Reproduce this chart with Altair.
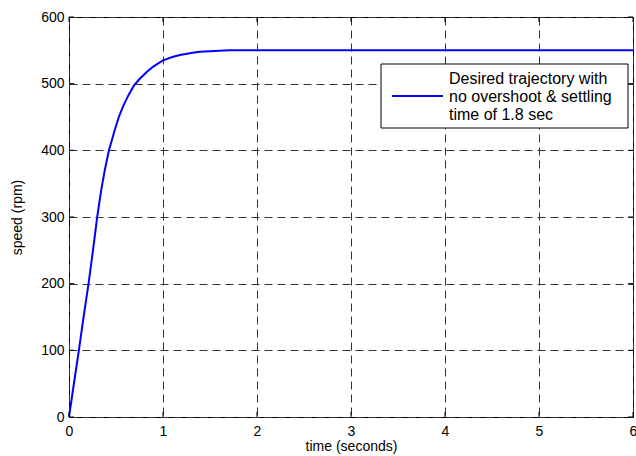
import altair as alt
import pandas as pd

# ---- data ----
time_s = [0, 0.05, 0.105, 0.155, 0.208, 0.255, 0.30, 0.34, 0.38, 0.425, 0.486,
          0.53, 0.575, 0.63, 0.69, 0.75, 0.83, 0.9, 1.0, 1.1, 1.18, 1.3, 1.39,
          1.55, 1.71, 2.0, 3.0, 4.0, 5.0, 6.0]
speed_rpm = [0, 48, 100, 150, 200, 250, 300, 338, 370, 400, 430,
             450, 466, 482, 497, 507, 518, 526, 535, 540, 543, 546, 548,
             549, 550, 550, 550, 550, 550, 550]
x_ticks = [0, 1, 2, 3, 4, 5, 6]
y_ticks = [0, 100, 200, 300, 400, 500, 600]
legend_lines = ["Desired trajectory with", "no overshoot & settling", "\u00a0time of 1.8 sec"]

FONT = "Liberation Sans"
W, H = 564, 400

df = pd.DataFrame({"t": time_s, "speed": speed_rpm})
xt = pd.DataFrame({"t": x_ticks})
yt = pd.DataFrame({"speed": y_ticks})
one = pd.DataFrame({"k": [0]})

xscale = alt.Scale(domain=[0, 6], nice=False, zero=False)
yscale = alt.Scale(domain=[0, 600], nice=False, zero=False)

xaxis = alt.Axis(values=x_ticks, format="d", title="time (seconds)", grid=True, domain=False,
                 ticks=False, labelPadding=7, labelFontSize=14, labelFont=FONT,
                 labelColor="black", titleFont=FONT, titleFontSize=14,
                 titleFontWeight="normal", titleColor="black",
                 titleBaseline="alphabetic", titleY=33, labelFlush=False)
yaxis = alt.Axis(values=y_ticks, format="d", title="speed (rpm)", grid=True, domain=False,
                 ticks=False, labelPadding=5, labelFontSize=14, labelFont=FONT,
                 labelColor="black", titleFont=FONT, titleFontSize=14,
                 titleFontWeight="normal", titleColor="black",
                 titleX=-48, titleBaseline="alphabetic", labelFlush=False)

line = alt.Chart(df).mark_line(color="#0000FF", strokeWidth=2).encode(
    x=alt.X("t:Q", scale=xscale, axis=xaxis),
    y=alt.Y("speed:Q", scale=yscale, axis=yaxis),
)

# inward tick marks (MATLAB style box)
tick_len = 5
xt_bottom = alt.Chart(xt).mark_rule(color="black", strokeWidth=1).encode(
    x=alt.X("t:Q", scale=xscale), y=alt.value(H), y2=alt.value(H - tick_len))
xt_top = alt.Chart(xt).mark_rule(color="black", strokeWidth=1).encode(
    x=alt.X("t:Q", scale=xscale), y=alt.value(0), y2=alt.value(tick_len))
yt_left = alt.Chart(yt).mark_rule(color="black", strokeWidth=1).encode(
    y=alt.Y("speed:Q", scale=yscale), x=alt.value(0), x2=alt.value(tick_len))
yt_right = alt.Chart(yt).mark_rule(color="black", strokeWidth=1).encode(
    y=alt.Y("speed:Q", scale=yscale), x=alt.value(W), x2=alt.value(W - tick_len))

# legend box
leg_box = alt.Chart(one).mark_rect(fill="white", stroke="black", strokeWidth=1).encode(
    x=alt.value(312), x2=alt.value(559), y=alt.value(47), y2=alt.value(111))
leg_line = alt.Chart(one).mark_rule(color="#0000FF", strokeWidth=2).encode(
    x=alt.value(323), x2=alt.value(374), y=alt.value(79))
leg_text = alt.Chart(one).mark_text(
    text=legend_lines, align="left", baseline="middle", font=FONT, fontSize=16,
    lineHeight=18, color="black").encode(x=alt.value(380), y=alt.value(62))

chart = alt.layer(
    line, xt_bottom, xt_top, yt_left, yt_right, leg_box, leg_line, leg_text
).properties(
    width=W, height=H,
    autosize=alt.AutoSizeParams(type="none"),
    padding={"left": 69, "top": 17, "right": 3, "bottom": 39},
    background="white",
).configure_view(
    stroke="black", strokeWidth=1
).configure_axis(
    gridColor="#333333", gridDash=[8, 5], gridWidth=1, gridOpacity=1,
)

chart.save("out.html", embed_options={"renderer": "svg", "actions": False})
